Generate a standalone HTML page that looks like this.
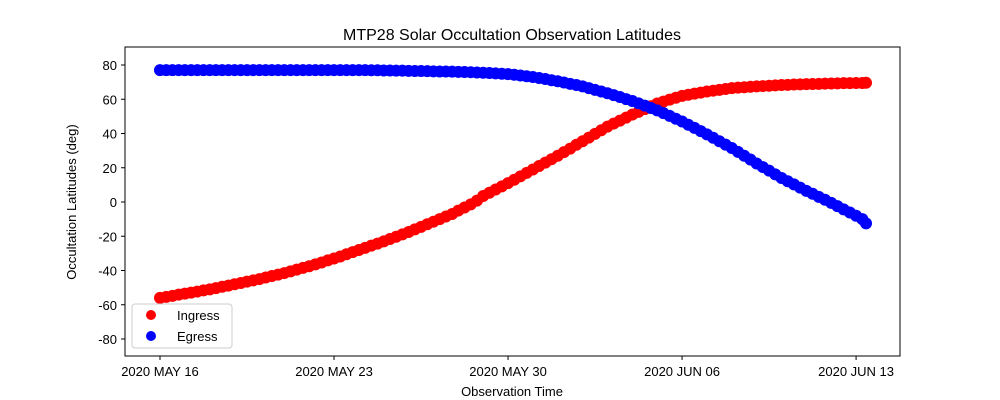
<!DOCTYPE html>
<html><head><meta charset="utf-8"><style>
body{margin:0;background:#fff}
svg{display:block;font-family:"Liberation Sans","DejaVu Sans",sans-serif}
</style></head><body>
<svg id="chart" width="1000" height="400" viewBox="0 0 1000 400" xmlns="http://www.w3.org/2000/svg">
<rect width="1000" height="400" fill="#fff"/>
<text x="512" y="40" text-anchor="middle" font-size="16">MTP28 Solar Occultation Observation Latitudes</text>
<g id="marks"></g>
<rect x="125" y="47" width="775" height="309" fill="none" stroke="#000" stroke-width="1"/>
<g id="axes"></g>
<text x="512" y="396" text-anchor="middle" font-size="13">Observation Time</text>
<text transform="translate(76,202) rotate(-90)" text-anchor="middle" font-size="13">Occultation Latitudes (deg)</text>
<g>
<rect x="132" y="304" width="100" height="44" rx="3" fill="#fff" fill-opacity="0.8" stroke="#ccc"/>
<circle cx="151" cy="315" r="5" fill="red"/>
<text x="177" y="320" font-size="13">Ingress</text>
<circle cx="151" cy="336" r="5" fill="blue"/>
<text x="177" y="341" font-size="13">Egress</text>
</g>
</svg>
<script>
const days = [0,0.25,0.5,0.75,1,1.25,1.5,1.75,2,2.25,2.5,2.75,3,3.25,3.5,3.75,4,4.25,4.5,4.75,5,5.25,5.5,5.75,6,6.25,6.5,6.75,7,7.25,7.5,7.75,8,8.25,8.5,8.75,9,9.25,9.5,9.75,10,10.25,10.5,10.75,11,11.25,11.5,11.75,12,12.25,12.5,12.75,13,13.25,13.5,13.75,14,14.25,14.5,14.75,15,15.25,15.5,15.75,16,16.25,16.5,16.75,17,17.25,17.5,17.75,18,18.25,18.5,18.75,19,19.25,19.5,19.75,20,20.25,20.5,20.75,21,21.25,21.5,21.75,22,22.25,22.5,22.75,23,23.25,23.5,23.75,24,24.25,24.5,24.75,25,25.25,25.5,25.75,26,26.25,26.5,26.75,27,27.25,27.5,27.75,28,28.25,28.4];
const ingress = [-56,-55.4,-54.8,-54.1,-53.5,-52.9,-52.3,-51.6,-51,-50.3,-49.5,-48.8,-48,-47.3,-46.5,-45.8,-45,-44.1,-43.2,-42.4,-41.5,-40.5,-39.5,-38.5,-37.5,-36.4,-35.3,-34.1,-33,-31.8,-30.5,-29.3,-28,-26.8,-25.5,-24.3,-23,-21.6,-20.3,-18.9,-17.5,-16,-14.5,-13,-11.5,-10,-8.5,-7,-5,-3.2,-1.4,0.8,3.5,5.4,7.3,9.1,11,13,15,17,19,21,23,25,27,29.1,31.2,33.4,35.5,37.6,39.8,41.9,44,45.8,47.5,49.3,51,52.6,54.2,55.9,57.5,58.6,59.8,60.9,62,62.6,63.3,63.9,64.5,65,65.5,66,66.5,66.8,67,67.3,67.5,67.7,67.9,68.1,68.3,68.4,68.6,68.7,68.8,68.9,69,69.1,69.2,69.3,69.4,69.4,69.5,69.5,69.6];
const egress = [77,77,77,77,77,77,77,77,77,77,77,77,77,77,77,77,77,77,77,77,77,77,77,77,77,77,77,77,77,77,77,77,77,77,76.9,76.9,76.8,76.8,76.7,76.7,76.6,76.5,76.5,76.4,76.3,76.2,76.2,76.1,76,75.9,75.8,75.6,75.5,75.3,75.1,74.9,74.7,74.3,73.9,73.4,73,72.4,71.8,71.1,70.5,69.8,69,68.3,67.5,66.5,65.5,64.5,63.5,62.4,61.3,60.1,59,57.6,56.3,54.9,53.5,51.9,50.3,48.6,47,45.1,43.3,41.4,39.5,37.5,35.5,33.5,31.5,29.3,27,24.8,22.5,20.4,18.3,16.1,14,12.1,10.3,8.4,6.5,4.8,3,1.3,-0.5,-2.4,-4.3,-6.1,-8,-10,-12.5];
const yTicks = [-80,-60,-40,-20,0,20,40,60,80];
const xTickDays = [0,7,14,21,28];
const xTickLabels = ["2020 MAY 16","2020 MAY 23","2020 MAY 30","2020 JUN 06","2020 JUN 13"];
const NS="http://www.w3.org/2000/svg";
function xS(d){return 160+d*24.86;}
function yS(v){return 202-v*1.7125;}
const marks=document.getElementById('marks'), axes=document.getElementById('axes');
function dots(arr,color,name){
  arr.forEach((v,i)=>{
    const c=document.createElementNS(NS,'circle');
    c.setAttribute('cx',xS(days[i]));c.setAttribute('cy',yS(v));c.setAttribute('r',6);c.setAttribute('fill',color);
    
    
    marks.appendChild(c);
  });
}
dots(ingress,'red','ingress-point');
dots(egress,'blue','egress-point');
yTicks.forEach(t=>{
  const y=yS(t);
  const l=document.createElementNS(NS,'line');
  l.setAttribute('x1',121);l.setAttribute('x2',125);l.setAttribute('y1',y);l.setAttribute('y2',y);l.setAttribute('stroke','#000');
  
  
  axes.appendChild(l);
  const tx=document.createElementNS(NS,'text');
  tx.setAttribute('x',117);tx.setAttribute('y',y+5);tx.setAttribute('text-anchor','end');tx.setAttribute('font-size','13');
  tx.textContent=t;
  
  
  axes.appendChild(tx);
});
xTickDays.forEach((d,i)=>{
  const x=xS(d);
  const l=document.createElementNS(NS,'line');
  l.setAttribute('x1',x);l.setAttribute('x2',x);l.setAttribute('y1',356);l.setAttribute('y2',360);l.setAttribute('stroke','#000');
  
  
  axes.appendChild(l);
  const tx=document.createElementNS(NS,'text');
  tx.setAttribute('x',x);tx.setAttribute('y',376);tx.setAttribute('text-anchor','middle');tx.setAttribute('font-size','13');
  tx.textContent=xTickLabels[i];
  
  
  axes.appendChild(tx);
});
</script>
</body></html>
